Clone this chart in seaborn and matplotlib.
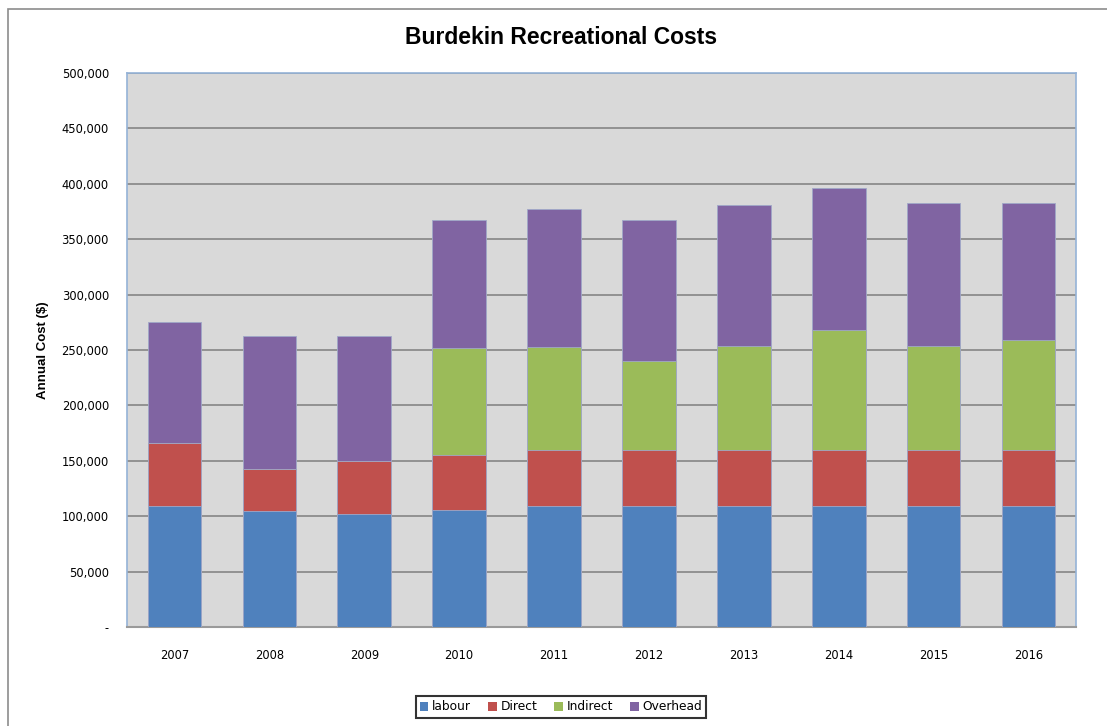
import matplotlib
matplotlib.use("Agg")
import matplotlib.pyplot as plt
import matplotlib.ticker as mticker
from matplotlib.patches import Rectangle, Patch
import numpy as np
import pandas as pd
import seaborn as sns

years = ["2007", "2008", "2009", "2010", "2011", "2012", "2013", "2014", "2015", "2016"]
labour = [109000, 105000, 102000, 106000, 109000, 109000, 109000, 109000, 109000, 109000]
direct = [57000, 38000, 48000, 49000, 51000, 51000, 51000, 51000, 51000, 51000]
indirect = [0, 0, 0, 97000, 93000, 80000, 94000, 108000, 94000, 99000]
overhead = [109000, 120000, 113000, 115000, 124000, 127000, 127000, 128000, 129000, 124000]

series_names = ["labour", "Direct", "Indirect", "Overhead"]
colors = ["#4f81bd", "#c0504d", "#9bbb59", "#8064a2"]

df = pd.DataFrame({"year": years, "labour": labour, "Direct": direct,
                   "Indirect": indirect, "Overhead": overhead})

sns.set_theme(style="white")
plt.rcParams["font.family"] = ["DejaVu Sans"]
plt.rcParams["text.color"] = "black"
plt.rcParams["axes.labelcolor"] = "black"

fig = plt.figure(figsize=(11.07, 7.26), dpi=100)
ax = fig.add_axes([127 / 1107, 1 - 627 / 726, 949 / 1107, 554 / 726])
ax.set_facecolor("#d9d9d9")

# outer chart frame
fig.patches.append(Rectangle((8 / 1107, -0.1), 1.2, 1 - 9 / 726 + 0.1,
                             transform=fig.transFigure, fill=False,
                             edgecolor="#8c8c8c", linewidth=1.2))

# stacked bars: draw cumulative totals from the top down
cum = df[series_names].cumsum(axis=1)
for name, color in reversed(list(zip(series_names, colors))):
    sns.barplot(x=df["year"], y=cum[name], color=color, width=0.565,
                edgecolor="#a0a8c8", linewidth=0.6, saturation=1, ax=ax, zorder=3)

ax.set_ylim(0, 500000)
ax.yaxis.set_major_locator(mticker.MultipleLocator(50000))
ax.yaxis.set_major_formatter(mticker.FuncFormatter(
    lambda v, p: "-" if v == 0 else f"{int(v):,}"))
ax.grid(axis="y", color="#868686", linewidth=1.2, zorder=0)
ax.set_axisbelow(True)
ax.tick_params(axis="both", length=0, labelsize=8.3, colors="#000000")
ax.tick_params(axis="y", pad=13)
ax.tick_params(axis="x", pad=16)

for side in ["left", "top", "right"]:
    ax.spines[side].set_color("#95b3d7")
    ax.spines[side].set_linewidth(1.2)
ax.spines["bottom"].set_color("#9a9a9a")
ax.spines["bottom"].set_linewidth(1.5)

ax.set_xlabel("")
ax.set_ylabel("Annual Cost ($)", fontsize=9.5, fontweight="bold", labelpad=9,
              family="Liberation Sans", color="black")
fig.text(561 / 1107, 1 - 38 / 726, "Burdekin Recreational Costs",
         ha="center", va="center", fontsize=16.5, fontweight="bold",
         family="Liberation Sans", color="black")

handles = [Patch(facecolor=c, edgecolor="none") for c in colors]
leg = fig.legend(handles, series_names, loc="center", ncol=4,
                 bbox_to_anchor=(561 / 1107, 1 - 707 / 726),
                 fontsize=8.8, frameon=True, fancybox=False,
                 handlelength=0.7, handleheight=0.7, handletextpad=0.3,
                 columnspacing=1.4, borderpad=0.35, labelcolor="black")
leg.get_frame().set_edgecolor("#000000")
leg.get_frame().set_linewidth(1.5)

fig.savefig("out.png", dpi=100, facecolor="white")
